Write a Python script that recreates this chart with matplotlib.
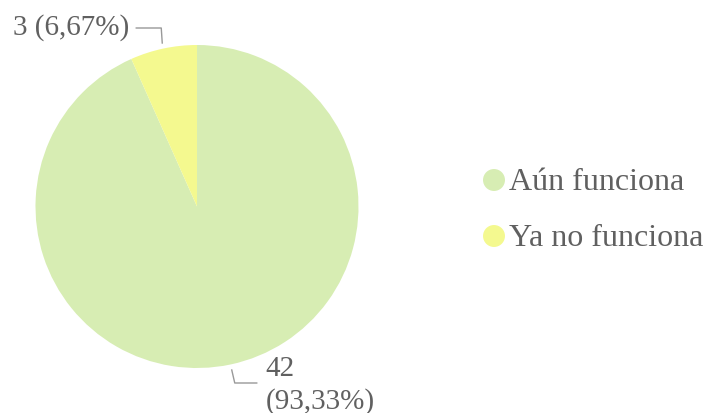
import numpy as np
import matplotlib.pyplot as plt

plt.rcParams['font.family'] = ['Liberation Serif', 'DejaVu Serif']

# Data
labels = ["Aún funciona", "Ya no funciona"]
values = [42, 3]
pct_labels = ["42\n(93,33%)", "3 (6,67%)"]
colors = ["#d7edb3", "#f4f98f"]
text_gray = "#606060"

W, H = 704, 413
fig = plt.figure(figsize=(W / 100, H / 100), dpi=100)

# pie axes placed in pixel coords (center ~ (197, 206), radius ~161)
cx, cy, r = 197, 206.5, 161.5
ax = fig.add_axes([(cx - r) / W, (H - cy - r) / H, 2 * r / W, 2 * r / H])
wedges, _ = ax.pie(values, colors=colors, startangle=90, counterclock=False,
                   radius=1.0, wedgeprops=dict(linewidth=0))
ax.set_xlim(-1, 1)
ax.set_ylim(-1, 1)
ax.set_aspect('equal')
ax.axis('off')

px = 1 / r  # one pixel in data units
for w, txt in zip(wedges, pct_labels):
    mid = np.deg2rad((w.theta1 + w.theta2) / 2)
    x0, y0 = 1.035 * np.cos(mid), 1.035 * np.sin(mid)
    if y0 > 0:
        # goes up then left
        x1, y1 = x0 - 1 * px, y0 + 15 * px
        x2, y2 = x1 - 25 * px, y1
        ax.plot([x0, x1, x2], [y0, y1, y2], color="#999999", lw=1, clip_on=False)
        ax.text(x2 - 7 * px, y2 + 0 * px, txt, ha='right', va='center', fontsize=21,
                color=text_gray, clip_on=False)
    else:
        # goes down then right
        x1, y1 = x0 + 3 * px, y0 - 13 * px
        x2, y2 = x1 + 22 * px, y1
        ax.plot([x0, x1, x2], [y0, y1, y2], color="#999999", lw=1, clip_on=False)
        ax.text(x2 + 9 * px, y2 + 27 * px, txt, ha='left', va='top', fontsize=21,
                color=text_gray, linespacing=1.3, clip_on=False)

# legend drawn in an overlay axes using pixel coordinates
lax = fig.add_axes([0, 0, 1, 1])
lax.set_xlim(0, W)
lax.set_ylim(H, 0)
lax.axis('off')
for i, (lab, col) in enumerate(zip(labels, colors)):
    y = 180 + i * 56
    lax.scatter([494], [y], s=250, color=col, edgecolors='none')
    lax.text(509, y + 3, lab, ha='left', va='center', fontsize=23, color=text_gray)

plt.savefig("out.png", dpi=100)
